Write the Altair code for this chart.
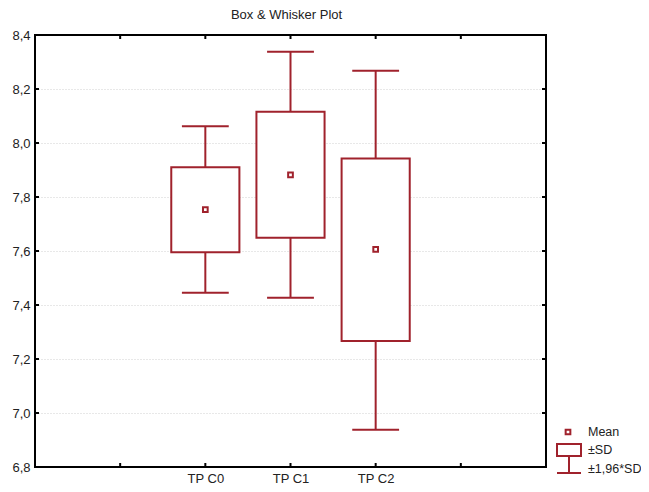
import altair as alt
import pandas as pd

categories = ["TP C0", "TP C1", "TP C2"]
positions = [2, 3, 4]
means = [7.753, 7.882, 7.606]
sd_low = [7.595, 7.649, 7.267]
sd_high = [7.910, 8.116, 7.943]
w_low = [7.445, 7.427, 6.938]
w_high = [8.062, 8.338, 8.268]

y_ticks = [6.8, 7.0, 7.2, 7.4, 7.6, 7.8, 8.0, 8.2, 8.4]
x_ticks = [1, 2, 3, 4, 5]
legend_labels = ["Mean", "±SD", "±1,96*SD"]

RED = "#a0222c"
FONT = "Liberation Sans"

W, H = 511, 432

df = pd.DataFrame({
    "cat": categories, "pos": positions, "mean": means,
    "sd_low": sd_low, "sd_high": sd_high, "w_low": w_low, "w_high": w_high,
})

xscale = alt.Scale(domain=[0, 6], nice=False, zero=False)
yscale = alt.Scale(domain=[6.8, 8.4], nice=False, zero=False)

label_expr = "datum.value == 2 ? 'TP C0' : datum.value == 3 ? 'TP C1' : datum.value == 4 ? 'TP C2' : ''"

base = alt.Chart(df)

boxes = base.transform_calculate(
    x_lo="datum.pos - 0.4", x_hi="datum.pos + 0.4"
).mark_rect(fill="white", stroke=RED, strokeWidth=2).encode(
    x=alt.X("x_lo:Q", scale=xscale,
            axis=alt.Axis(values=x_ticks, labelExpr=label_expr, title=None, ticks=False,
                          domain=False, grid=False, labelPadding=5, labelFontSize=13,
                          labelFont=FONT, labelColor="#222")),
    x2="x_hi:Q",
    y=alt.Y("sd_low:Q", scale=yscale,
            axis=alt.Axis(values=y_ticks, title=None, ticks=False, domain=False,
                          labelExpr="replace(format(datum.value, '.1f'), '.', ',')",
                          labelPadding=5, labelFontSize=13, labelFont=FONT, labelColor="#222",
                          grid=True, gridColor="#d0d0d0", gridDash=[1, 2], gridWidth=1)),
    y2="sd_high:Q",
)

whisk_up = base.mark_rule(color=RED, strokeWidth=2).encode(
    x=alt.X("pos:Q", scale=xscale), y=alt.Y("sd_high:Q", scale=yscale), y2="w_high:Q")
whisk_dn = base.mark_rule(color=RED, strokeWidth=2).encode(
    x=alt.X("pos:Q", scale=xscale), y=alt.Y("w_low:Q", scale=yscale), y2="sd_low:Q")

caps_df = base.transform_calculate(c_lo="datum.pos - 0.275", c_hi="datum.pos + 0.275")
cap_hi = caps_df.mark_rule(color=RED, strokeWidth=2).encode(
    x=alt.X("c_lo:Q", scale=xscale), x2="c_hi:Q", y=alt.Y("w_high:Q", scale=yscale))
cap_lo = caps_df.mark_rule(color=RED, strokeWidth=2).encode(
    x=alt.X("c_lo:Q", scale=xscale), x2="c_hi:Q", y=alt.Y("w_low:Q", scale=yscale))

mean_pts = base.mark_square(size=22, filled=False, color=RED, strokeWidth=2, opacity=1).encode(
    x=alt.X("pos:Q", scale=xscale), y=alt.Y("mean:Q", scale=yscale))

one = pd.DataFrame({"k": [0]})

# plot frame
frame = alt.Chart(one).mark_rect(fill=None, stroke="black", strokeWidth=2, clip=False).encode(
    x=alt.value(0), x2=alt.value(W), y=alt.value(0), y2=alt.value(H))

# inward tick marks on all four sides
ydf = pd.DataFrame({"v": y_ticks})
xdf = pd.DataFrame({"v": x_ticks})
tick_l = alt.Chart(ydf).mark_rule(color="black", strokeWidth=2).encode(
    y=alt.Y("v:Q", scale=yscale), x=alt.value(0), x2=alt.value(4))
tick_r = alt.Chart(ydf).mark_rule(color="black", strokeWidth=2).encode(
    y=alt.Y("v:Q", scale=yscale), x=alt.value(W - 4), x2=alt.value(W))
tick_b = alt.Chart(xdf).mark_rule(color="black", strokeWidth=2).encode(
    x=alt.X("v:Q", scale=xscale), y=alt.value(H - 4), y2=alt.value(H))
tick_t = alt.Chart(xdf).mark_rule(color="black", strokeWidth=2).encode(
    x=alt.X("v:Q", scale=xscale), y=alt.value(0), y2=alt.value(4))

# legend
LY = H - 35
LX = 522
leg_mean = alt.Chart(one).mark_square(size=22, filled=False, color=RED, strokeWidth=2,
                                       opacity=1, clip=False).encode(
    x=alt.value(LX + 11), y=alt.value(LY))
leg_box = alt.Chart(one).mark_rect(fill="white", stroke=RED, strokeWidth=2, clip=False).encode(
    x=alt.value(LX), x2=alt.value(LX + 24), y=alt.value(LY + 12), y2=alt.value(LY + 24))
leg_wv = alt.Chart(one).mark_rule(color=RED, strokeWidth=2, clip=False).encode(
    x=alt.value(LX + 12), y=alt.value(LY + 24), y2=alt.value(LY + 41))
leg_wc = alt.Chart(one).mark_rule(color=RED, strokeWidth=2, clip=False).encode(
    x=alt.value(LX), x2=alt.value(LX + 24), y=alt.value(LY + 41))
leg_df = pd.DataFrame({"label": legend_labels, "yy": [LY, LY + 18, LY + 37]})
leg_text = alt.Chart(leg_df).mark_text(align="left", baseline="middle", fontSize=12.5,
                                       font=FONT, color="#222", clip=False).encode(
    x=alt.value(LX + 31), y=alt.Y("yy:Q", scale=None), text="label:N")

chart = alt.layer(
    boxes, whisk_up, whisk_dn, cap_hi, cap_lo, mean_pts,
    frame, tick_l, tick_r, tick_b, tick_t,
    leg_mean, leg_box, leg_wv, leg_wc, leg_text,
).properties(
    width=W, height=H,
    title=alt.TitleParams("Box & Whisker Plot", fontSize=13, font=FONT, fontWeight="normal",
                          color="#222", anchor="middle", offset=7, dx=-4),
    autosize=alt.AutoSizeParams(type="none"),
    padding={"left": 27, "top": 27, "right": 95, "bottom": 17},
).configure_view(stroke=None).configure(background="white")

chart.save("out.html", embed_options={"renderer": "svg", "actions": False})
